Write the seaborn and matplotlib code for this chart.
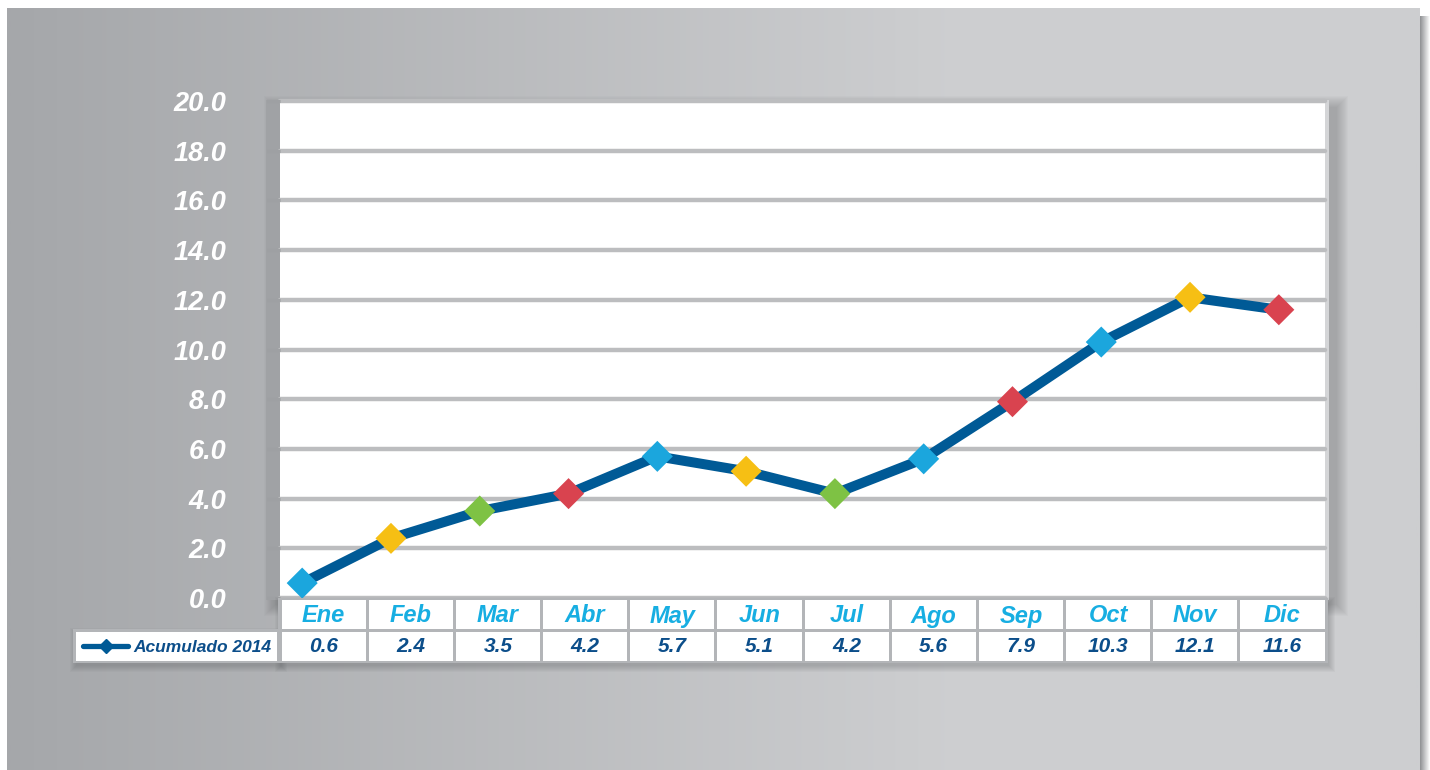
import numpy as np
import pandas as pd
import matplotlib
matplotlib.use("Agg")
import matplotlib.pyplot as plt
from matplotlib.colors import LinearSegmentedColormap
from matplotlib.patches import Rectangle
from matplotlib.lines import Line2D
import seaborn as sns

# ---- data -------------------------------------------------------------
months = ["Ene", "Feb", "Mar", "Abr", "May", "Jun",
          "Jul", "Ago", "Sep", "Oct", "Nov", "Dic"]
acumulado_2014 = [0.6, 2.4, 3.5, 4.2, 5.7, 5.1, 4.2, 5.6, 7.9, 10.3, 12.1, 11.6]
series_label = "Acumulado 2014"
y_ticks = [0, 2, 4, 6, 8, 10, 12, 14, 16, 18, 20]
marker_colors = ["#1BA6DD", "#F6BF14", "#7EC244", "#D9434F",
                 "#1BA6DD", "#F6BF14", "#7EC244", "#1BA6DD",
                 "#D9434F", "#1BA6DD", "#F6BF14", "#D9434F"]

# ---- style ------------------------------------------------------------
LINE_BLUE = "#005A96"
VALUE_BLUE = "#0C4E8A"
MONTH_CYAN = "#17AEE2"
GRID_GRAY = "#BCBDBF"

W, H = 1430, 770
sns.set_theme(style="white")
plt.rcParams["font.family"] = ["Liberation Sans", "DejaVu Sans"]

fig = plt.figure(figsize=(W / 100, H / 100), dpi=100, facecolor="white")


def pixel_axes(z):
    a = fig.add_axes([0, 0, 1, 1], zorder=z)
    a.set_xlim(0, W)
    a.set_ylim(H, 0)
    a.axis("off")
    a.patch.set_alpha(0)
    return a


def soft_shadow(a, x, y, w, h, spread=10, alpha=0.3, color="#505255"):
    for k in range(spread, 0, -1):
        a.add_patch(Rectangle((x - k, y - k), w + 2 * k, h + 2 * k,
                              facecolor=color, edgecolor="none",
                              alpha=alpha / spread, zorder=1))


# ---- background panel -----------------------------------------------
bg = pixel_axes(0)
panel_cmap = LinearSegmentedColormap.from_list(
    "panel", [(0, "#A5A7AA"), (0.68, "#CECFD1"), (1, "#CDCED0")])
bg.imshow(np.linspace(0, 1, 512)[None, :], cmap=panel_cmap, aspect="auto",
          extent=[7, 1420, H, 8], zorder=0)
edge_cmap = LinearSegmentedColormap.from_list("edge", ["#8E9093", "#FFFFFF"])
bg.imshow(np.linspace(0, 1, 64)[None, :], cmap=edge_cmap, aspect="auto",
          extent=[1420, 1430, H, 16], zorder=0)

# frame and shadow around the plotting area
soft_shadow(bg, 276, 108, 1060, 496, spread=12, alpha=0.32)
bg.add_patch(Rectangle((266, 100), 14, 500, facecolor="#A0A2A5",
                       edgecolor="none", zorder=2))
bg.add_patch(Rectangle((1322, 100), 7, 500, facecolor="#D4D5D7",
                       edgecolor="none", zorder=2))

# ---- main chart -----------------------------------------------------
ax = fig.add_axes([280 / W, 1 - 598 / H, 1045 / W, 497 / H], zorder=2)
ax.set_facecolor("white")

idx = np.arange(len(months))
df = pd.DataFrame({"pos": idx, "mes": months, "valor": acumulado_2014})

sns.lineplot(data=df, x="pos", y="valor", ax=ax, color=LINE_BLUE,
             linewidth=7.2, sort=False, zorder=3)
sns.scatterplot(data=df, x="pos", y="valor", hue="mes", palette=marker_colors,
                marker="D", s=250, edgecolor="none", legend=False,
                ax=ax, zorder=4)

ax.set_xlim(-0.25, 11.52)
ax.set_ylim(0, 20)
ax.set_xticks([])
ax.set_yticks(y_ticks)
ax.set_yticklabels([f"{v:.1f}" for v in y_ticks])
ax.set_xlabel("")
ax.set_ylabel("")
for s in ax.spines.values():
    s.set_visible(False)
ax.grid(axis="y", color=GRID_GRAY, linewidth=3.2)
for gl in ax.get_ygridlines():
    gl.set_clip_on(False)
ax.set_axisbelow(True)
ax.tick_params(axis="y", length=9.5, width=2.2, color="#9EA0A3",
               direction="out", pad=29, labelcolor="white", labelsize=19.5,
               left=True)
for lab in ax.get_yticklabels():
    lab.set_fontstyle("italic")
    lab.set_fontweight("bold")

# ---- data table under the chart --------------------------------------
tb = pixel_axes(5)
x0, x1 = 280, 1326
col_w = (x1 - x0) / len(months)
hdr_top, hdr_bot = 600, 630
val_top, val_bot = 631, 661
leg_left, leg_right = 75, 278

soft_shadow(tb, x0 + 2, hdr_top + 4, x1 - x0, val_bot - hdr_top,
            spread=7, alpha=0.3)
soft_shadow(tb, leg_left + 2, val_top + 4, leg_right - leg_left,
            val_bot - val_top, spread=7, alpha=0.3)
tb.add_patch(Rectangle((x0 - 2, hdr_top - 2), x1 - x0 + 4, val_bot - hdr_top + 4,
                       facecolor="#B3B5B8", edgecolor="none", zorder=2))
tb.add_patch(Rectangle((leg_left - 2, val_top - 2), leg_right - leg_left + 4,
                       val_bot - val_top + 4,
                       facecolor="#B3B5B8", edgecolor="none", zorder=2))

for i, (m, v) in enumerate(zip(months, acumulado_2014)):
    cx0 = x0 + i * col_w
    tb.add_patch(Rectangle((cx0 + 1.5, hdr_top), col_w - 3, hdr_bot - hdr_top - 1,
                           facecolor="white", edgecolor="none", zorder=3))
    tb.add_patch(Rectangle((cx0 + 1.5, val_top + 1), col_w - 3, val_bot - val_top - 1,
                           facecolor="white", edgecolor="none", zorder=3))
    cx = cx0 + col_w / 2
    tb.text(cx, (hdr_top + hdr_bot) / 2 + 1, m, ha="center", va="center",
            color=MONTH_CYAN, fontsize=17, fontstyle="italic",
            fontweight="bold", zorder=4)
    tb.text(cx, (val_top + val_bot) / 2 + 1, f"{v:.1f}", ha="center",
            va="center", color=VALUE_BLUE, fontsize=15, fontstyle="italic",
            fontweight="bold", zorder=4)

# legend cell
tb.add_patch(Rectangle((leg_left + 1, val_top + 1), leg_right - leg_left - 2,
                       val_bot - val_top - 1,
                       facecolor="white", edgecolor="none", zorder=3))
ly = (val_top + val_bot) / 2
tb.add_line(Line2D([83, 128], [ly, ly], color=LINE_BLUE, linewidth=3.8,
                   marker=None, zorder=4))
tb.add_line(Line2D([105.5], [ly], color=LINE_BLUE, marker="D",
                   markersize=7, linestyle="none", zorder=5))
tb.text(133, ly + 1, series_label, ha="left", va="center", color=VALUE_BLUE,
        fontsize=12.5, fontstyle="italic", fontweight="bold", zorder=4)

fig.savefig("out.png", dpi=100, facecolor="white")
